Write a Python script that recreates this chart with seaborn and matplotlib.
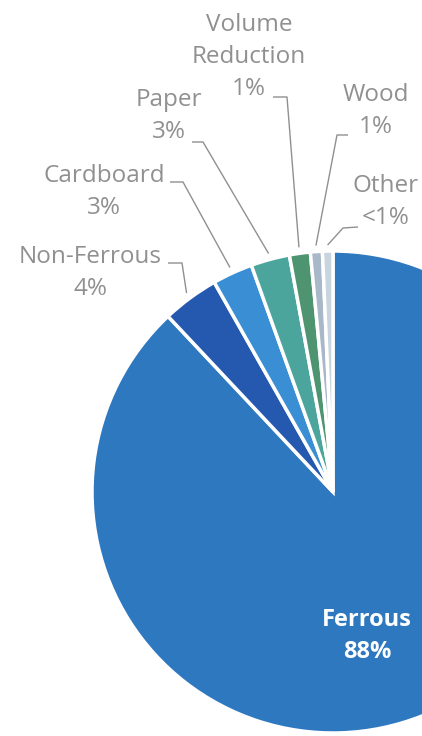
import numpy as np
import matplotlib
matplotlib.use("Agg")
import matplotlib.pyplot as plt
import seaborn as sns

# values (shares in %)
categories = ["Ferrous", "Non-Ferrous", "Cardboard", "Paper", "Volume\nReduction", "Wood", "Other"]
shares = [88.0, 3.8, 2.7, 2.6, 1.4, 0.8, 0.7]
pct_labels = ["88%", "4%", "3%", "3%", "1%", "1%", "<1%"]
colors = ["#2E78C0", "#2559B0", "#3A8FD4", "#4BA59C", "#4E9470", "#A8B8C8", "#C8D4DE"]

sns.set_theme(style="white")
plt.rcParams["font.family"] = ["Open Sans", "DejaVu Sans"]

W, H = 422, 736
cx, cy = 333, 492  # pie centre in pixel units
R = 241

fig = plt.figure(figsize=(W / 100, H / 100), dpi=100)
ax = fig.add_axes([0, 0, 1, 1])

wedges, _ = ax.pie(shares, colors=colors, startangle=90, counterclock=False, radius=R,
                   wedgeprops=dict(edgecolor="white", linewidth=2.5))
ax.set_xlim(-cx, W - cx)
ax.set_ylim(-(H - cy), cy)
ax.set_aspect("equal")
ax.axis("off")


def px(x, y):
    return x - cx, cy - y


gray = "#909090"
# label layout in pixel coordinates: text centre, end of text stub, elbow
layout = {
    1: dict(text=(90, 273), stub=(168, 263), elbow=(182, 263)),
    2: dict(text=(104, 192), stub=(170, 182), elbow=(183, 182)),
    3: dict(text=(169, 116), stub=(192, 142), elbow=(203, 142)),
    4: dict(text=(249, 57), stub=(273, 97), elbow=(287, 97)),
    5: dict(text=(376, 111), stub=(348, 135), elbow=(337, 135)),
    6: dict(text=(386, 202), stub=(358, 227), elbow=(343, 228)),
}

for i, lay in layout.items():
    w = wedges[i]
    mid = np.deg2rad((w.theta1 + w.theta2) / 2)
    ax_, ay_ = 1.025 * R * np.cos(mid), 1.025 * R * np.sin(mid)
    sx, sy = px(*lay["stub"])
    ex, ey = px(*lay["elbow"])
    ax.plot([sx, ex, ax_], [sy, ey, ay_], color=gray, lw=1.0, solid_capstyle="butt")
    tx, ty = px(*lay["text"])
    ax.text(tx, ty, categories[i] + "\n" + pct_labels[i], ha="center", va="center",
            fontsize=17.5, color=gray, linespacing=1.42)

fx, fy = px(367, 636)
ax.text(fx, fy, categories[0] + "\n" + pct_labels[0], ha="center", va="center",
        fontsize=17, color="white", fontweight="bold", linespacing=1.45)

fig.savefig("out.png", dpi=100, facecolor="white")
